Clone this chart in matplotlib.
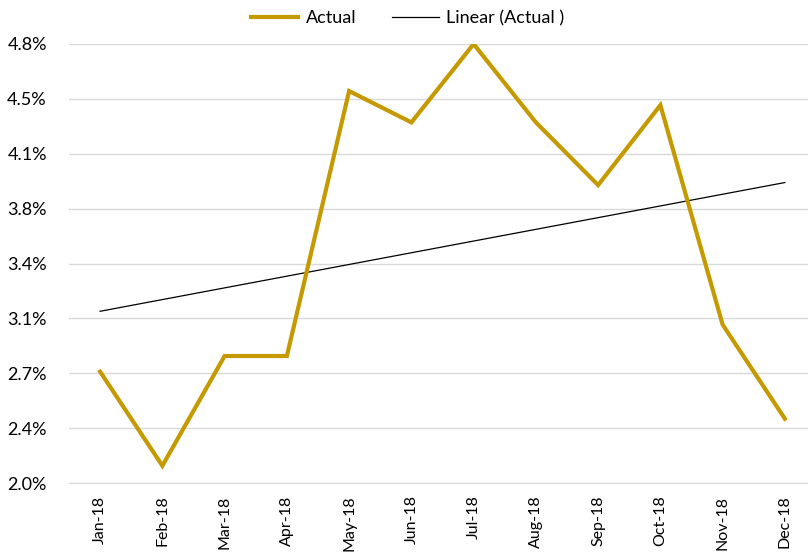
import numpy as np
import matplotlib.pyplot as plt
from matplotlib.ticker import FuncFormatter

# ----------- DATA -----------
months = ["Jan-18", "Feb-18", "Mar-18", "Apr-18", "May-18", "Jun-18",
          "Jul-18", "Aug-18", "Sep-18", "Oct-18", "Nov-18", "Dec-18"]
actual = [2.71, 2.11, 2.81, 2.81, 4.50, 4.30, 4.80, 4.30, 3.90, 4.41, 3.01, 2.41]
y_ticks = [2.0, 2.35, 2.7, 3.05, 3.4, 3.75, 4.1, 4.45, 4.8]

GOLD = "#C59A00"
plt.rcParams["font.family"] = ["Lato", "DejaVu Sans"]

x = np.arange(len(months))
slope, icept = np.polyfit(x, actual, 1)
trend = slope * x + icept

fig = plt.figure(figsize=(8.08, 5.58), dpi=100)
ax = fig.add_axes([69 / 808, 75 / 558, 747 / 808, 439 / 558])

ax.plot(x, actual, color=GOLD, lw=3.0, solid_joinstyle="miter", label="Actual", zorder=3)
ax.plot(x, trend, color="black", lw=0.9, label="Linear (Actual )", zorder=2)

ax.set_xlim(-0.5, len(months) - 0.5)
ax.set_ylim(2.0, 4.8)
ax.set_yticks(y_ticks)
# round half up like Excel (3.05 -> 3.1%)
ax.yaxis.set_major_formatter(FuncFormatter(lambda v, _: f"{v + 1e-9:.1f}%"))
ax.grid(axis="y", color="#d9d9d9", lw=1.0)
ax.set_axisbelow(True)

ax.set_xticks(x)
ax.set_xticklabels(months, rotation=90, va="top", ha="center")
for s in ["top", "right", "left"]:
    ax.spines[s].set_visible(False)
ax.spines["bottom"].set_color("#d9d9d9")
ax.tick_params(axis="both", length=0, colors="#000000")
ax.tick_params(axis="y", pad=16, labelsize=13)
ax.tick_params(axis="x", pad=9, labelsize=11.5)

fig.legend(loc="center", bbox_to_anchor=(408 / 808, 1 - 18 / 558), ncol=2,
           frameon=False, fontsize=13, handlelength=2.6, handletextpad=0.4,
           columnspacing=2.0)

fig.savefig("out.png", dpi=100)
